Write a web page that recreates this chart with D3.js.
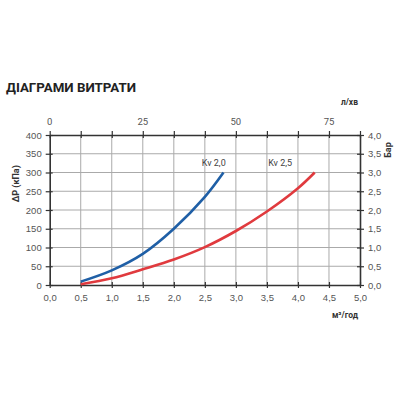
<!DOCTYPE html>
<html>
<head>
<meta charset="utf-8">
<script src="https://cdn.jsdelivr.net/npm/d3@7"></script>
<style>
  body { margin: 0; background: #fff; }
  svg { font-family: Roboto, "Liberation Sans", sans-serif; }
</style>
</head>
<body>
<svg id="chart" width="400" height="400"></svg>
<script>
// flow, m3/h
const flowKv20 = [0.5, 1.0, 1.5, 2.0, 2.5, 2.8];
const dpKv20 = [9, 39, 83, 150, 235, 300];
const flowKv25 = [0.5, 1.0, 1.5, 2.0, 2.5, 3.0, 3.5, 4.0, 4.27];
const dpKv25 = [2, 18, 42, 68, 101, 144, 196, 258, 300];

const xTicks = [0, 0.5, 1, 1.5, 2, 2.5, 3, 3.5, 4, 4.5, 5];
const yTicks = [0, 50, 100, 150, 200, 250, 300, 350, 400];
const barTicks = [0, 0.5, 1, 1.5, 2, 2.5, 3, 3.5, 4];
const lminLabels = [0, 25, 50, 75];

const margin = { left: 49.7, right: 40, top: 135, bottom: 115 };
const svg = d3.select("#chart");
const W = 400, H = 400;

const x = d3.scaleLinear().domain([0, 5]).range([margin.left, W - margin.right]);
const y = d3.scaleLinear().domain([0, 400]).range([H - margin.bottom, margin.top]);
const yBar = d3.scaleLinear().domain([0, 4]).range([H - margin.bottom, margin.top]);
// l/min on top: 1 m3/h = 1000/60 l/min
const xTop = d3.scaleLinear().domain([0, 5 * 1000 / 60]).range(x.range());

// title
svg.append("text")
  .attr("x", 6).attr("y", 92)
  .attr("font-size", 13.3).attr("font-weight", "bold").attr("fill", "#222")
  .text("ДІАГРАМИ ВИТРАТИ");

// grid
svg.append("g").selectAll("line").data(xTicks.slice(1, -1)).enter().append("line")
  .attr("x1", d => x(d)).attr("x2", d => x(d))
  .attr("y1", y(0)).attr("y2", y(400))
  .attr("stroke", "#aaa").attr("stroke-width", 1);
svg.append("g").selectAll("line").data(yTicks.slice(1, -1)).enter().append("line")
  .attr("x1", x(0)).attr("x2", x(5))
  .attr("y1", d => y(d)).attr("y2", d => y(d))
  .attr("stroke", "#aaa").attr("stroke-width", 1);

function styleAxis(g) {
  g.select(".domain").attr("stroke", "#333").attr("stroke-width", 1.6);
  g.selectAll(".tick line").attr("stroke", "#333").attr("stroke-width", 1.2);
  g.selectAll(".tick text").attr("fill", "#555").attr("font-size", 9.5);
}
const fmt = d => d3.format(".1f")(d).replace(".", ",");

// bottom axis
svg.append("g")
  .attr("transform", `translate(0,${y(0)})`)
  .call(d3.axisBottom(x).tickValues(xTicks).tickFormat(fmt).tickSize(3).tickSizeOuter(0).tickPadding(6))
  .call(styleAxis)
  .call(g => g.selectAll(".tick line").attr("y1", -3));

// left axis
svg.append("g")
  .attr("transform", `translate(${x(0)},0)`)
  .call(d3.axisLeft(y).tickValues(yTicks).tickSize(4).tickSizeOuter(0).tickPadding(4))
  .call(styleAxis)
  .call(g => g.selectAll(".tick line").attr("x1", 3));

// right axis (bar)
svg.append("g")
  .attr("transform", `translate(${x(5)},0)`)
  .call(d3.axisRight(yBar).tickValues(barTicks).tickFormat(fmt).tickSize(4).tickSizeOuter(0).tickPadding(4))
  .call(styleAxis)
  .call(g => g.selectAll(".tick line").attr("x1", -3));

// top axis (l/min): ticks every 0.5 m3/h, labels at 25 l/min
svg.append("g")
  .attr("transform", `translate(0,${y(400)})`)
  .call(d3.axisTop(x).tickValues(xTicks).tickFormat("").tickSize(4).tickSizeOuter(0))
  .call(styleAxis)
  .call(g => g.selectAll(".tick line").attr("y1", 3));
svg.append("g").selectAll("text").data(lminLabels).enter().append("text")
  .attr("x", d => xTop(d)).attr("y", y(400) - 10)
  .attr("text-anchor", "middle").attr("font-size", 9.5).attr("fill", "#555")
  .text(d => d);

// axis titles
svg.append("text")
  .attr("transform", `translate(19,${y(270)}) rotate(-90)`)
  .attr("text-anchor", "middle").attr("font-size", 9).attr("font-weight", "bold").attr("fill", "#333")
  .text("ΔP (кПа)");
svg.append("text")
  .attr("transform", `translate(391,${yBar(3.6)}) rotate(-90)`)
  .attr("text-anchor", "middle").attr("font-size", 9).attr("font-weight", "bold").attr("fill", "#333")
  .text("Бар");
svg.append("text")
  .attr("x", x(5) - 2).attr("y", 318)
  .attr("text-anchor", "end").attr("font-size", 8.5).attr("font-weight", "bold").attr("fill", "#333")
  .text("м³/год");
svg.append("text")
  .attr("x", x(5) - 2).attr("y", 105)
  .attr("text-anchor", "end").attr("font-size", 8.5).attr("font-weight", "bold").attr("fill", "#333")
  .text("л/хв");

// curves
const line = d3.line().x(d => x(d[0])).y(d => y(d[1])).curve(d3.curveCatmullRom);
svg.append("path")
  .datum(d3.zip(flowKv25, dpKv25))
  .attr("d", line).attr("fill", "none")
  .attr("stroke", "#e03a3e").attr("stroke-width", 2.6);
svg.append("path")
  .datum(d3.zip(flowKv20, dpKv20))
  .attr("d", line).attr("fill", "none")
  .attr("stroke", "#1f5fa6").attr("stroke-width", 2.6);

// curve labels
svg.append("text")
  .attr("x", x(2.45)).attr("y", y(325) + 3)
  .attr("font-size", 9).attr("fill", "#444").text("Kv 2,0");
svg.append("text")
  .attr("x", x(3.52)).attr("y", y(325) + 3)
  .attr("font-size", 9).attr("fill", "#444").text("Kv 2,5");
</script>
</body>
</html>
